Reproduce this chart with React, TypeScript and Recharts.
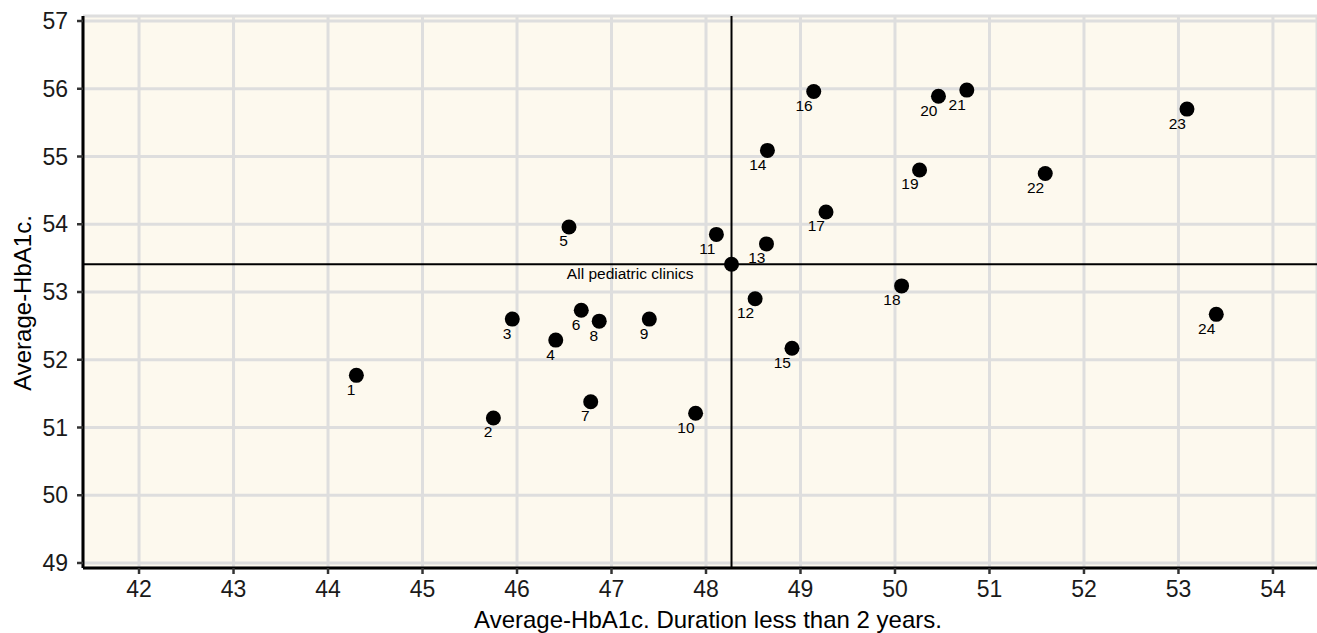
import React from 'react';
import { ScatterChart, Scatter, XAxis, YAxis, CartesianGrid, ReferenceLine } from 'recharts';

// Clinic numbers and their average HbA1c values
const clinicIds = [1, 2, 3, 4, 5, 6, 7, 8, 9, 10, 11, 12, 13, 14, 15, 16, 17, 18, 19, 20, 21, 22, 23, 24];
// Average HbA1c among patients with diabetes duration < 2 years (x)
const shortDurationHbA1c = [
  44.3, 45.75, 45.95, 46.41, 46.55, 46.68, 46.78, 46.87, 47.4, 47.89, 48.11, 48.52,
  48.64, 48.65, 48.91, 49.14, 49.27, 50.07, 50.26, 50.46, 50.76, 51.59, 53.09, 53.4,
];
// Average HbA1c among all patients (y)
const allPatientsHbA1c = [
  51.77, 51.14, 52.6, 52.29, 53.96, 52.73, 51.38, 52.57, 52.6, 51.21, 53.85, 52.9,
  53.71, 55.09, 52.17, 55.96, 54.18, 53.09, 54.8, 55.89, 55.98, 54.75, 55.7, 52.67,
];
// Reference point: all pediatric clinics together
const overallLabel = 'All pediatric clinics';
const overallShort = 48.27;
const overallAll = 53.41;

const xTicks = [42, 43, 44, 45, 46, 47, 48, 49, 50, 51, 52, 53, 54];
const yTicks = [49, 50, 51, 52, 53, 54, 55, 56, 57];

const xTitle = 'Average-HbA1c. Duration less than 2 years.';
const yTitle = 'Average-HbA1c.';

const clinics = clinicIds.map((id, i) => ({ id, x: shortDurationHbA1c[i], y: allPatientsHbA1c[i] }));
const overall = [{ id: overallLabel, x: overallShort, y: overallAll }];

const FONT = '"Liberation Sans", Arial, sans-serif';
const LABEL_SIZE = 15.5;
const DOT_R = 7.5;

const ClinicDot = (props: any) => {
  const { cx, cy, payload } = props;
  return (
    <g>
      <circle cx={cx} cy={cy} r={DOT_R} fill="#000" />
      <text x={cx - 1} y={cy + 14} dy="0.35em" textAnchor="end" fontSize={LABEL_SIZE} fontFamily={FONT} fill="#000">
        {payload.id}
      </text>
    </g>
  );
};

const OverallDot = (props: any) => {
  const { cx, cy, payload } = props;
  return (
    <g>
      <circle cx={cx} cy={cy} r={DOT_R} fill="#000" />
      <text x={cx - 38} y={cy + 9} dy="0.35em" textAnchor="end" fontSize={LABEL_SIZE} fontFamily={FONT} fill="#000">
        {payload.id}
      </text>
    </g>
  );
};

export default function App() {
  return (
    <div style={{ position: 'absolute', left: 0, top: 0, width: 1317, height: 633, background: '#fff' }}>
      <ScatterChart width={1317} height={633} margin={{ top: 16, right: 0, bottom: 0, left: 0 }}>
        <CartesianGrid fill="#FDF9EE" stroke="#DEDEDE" strokeWidth={3} />
        <XAxis
          type="number"
          dataKey="x"
          domain={[41.407, 54.466]}
          ticks={xTicks}
          allowDataOverflow
          height={65}
          tickSize={6}
          tickMargin={7}
          axisLine={{ stroke: '#000', strokeWidth: 3 }}
          tickLine={{ stroke: '#333', strokeWidth: 2.5 }}
          tick={{ fontSize: 23, fill: '#1a1a1a', fontFamily: FONT }}
          label={() => (
            <text x={708} y={628} textAnchor="middle" fontSize={24} fontFamily={FONT} fill="#000">
              {xTitle}
            </text>
          )}
        />
        <YAxis
          type="number"
          dataKey="y"
          domain={[48.926, 57.074]}
          ticks={yTicks}
          allowDataOverflow
          width={83}
          tickSize={6}
          tickMargin={9}
          axisLine={{ stroke: '#000', strokeWidth: 3 }}
          tickLine={{ stroke: '#333', strokeWidth: 2.5 }}
          tick={{ fontSize: 23, fill: '#1a1a1a', fontFamily: FONT }}
          label={() => (
            <text
              transform="translate(31,303) rotate(-90)"
              textAnchor="middle"
              fontSize={24}
              fontFamily={FONT}
              fill="#000"
            >
              {yTitle}
            </text>
          )}
        />
        <ReferenceLine x={overallShort} stroke="#000" strokeWidth={2} />
        <ReferenceLine y={overallAll} stroke="#000" strokeWidth={2} />
        <Scatter data={clinics} shape={ClinicDot} isAnimationActive={false} />
        <Scatter data={overall} shape={OverallDot} isAnimationActive={false} />
      </ScatterChart>
    </div>
  );
}
